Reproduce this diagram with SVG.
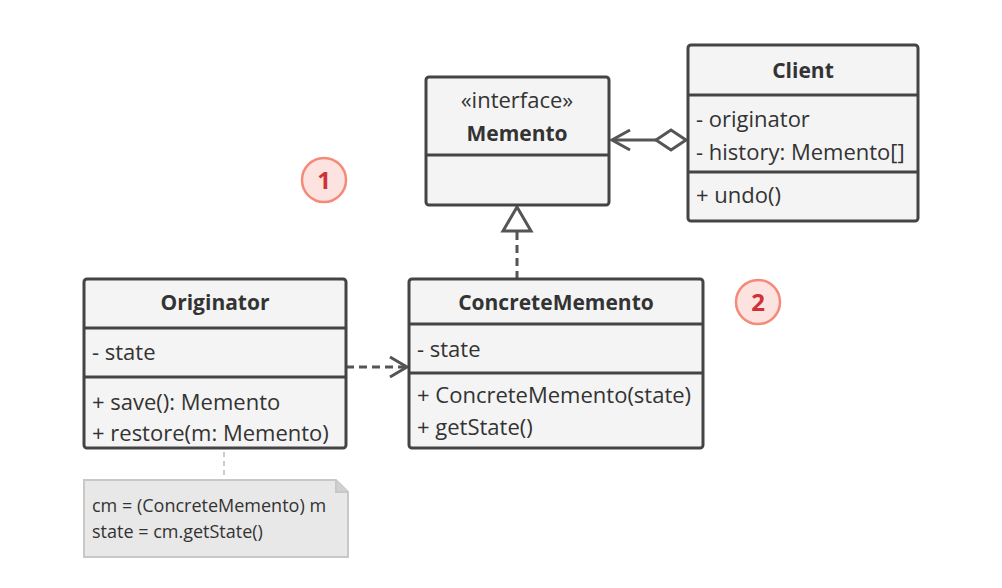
<svg xmlns="http://www.w3.org/2000/svg" width="1002" height="588" viewBox="0 0 1002 588">
<defs>
<style>
.box{fill:#f4f4f4;stroke:#444;stroke-width:3}
.div{stroke:#444;stroke-width:3}
.t{font-family:"Open Sans","Noto Sans",sans-serif;font-size:22px;fill:#333}
.b{font-weight:bold;text-anchor:middle;font-size:21px}
.c{text-anchor:middle}
.n{font-family:"Open Sans","Noto Sans",sans-serif;font-size:18px;fill:#333}
.con{fill:none;stroke:#555;stroke-width:3}
.badge{fill:#fde3df;stroke:#f5897a;stroke-width:2.5}
.bt{font-family:"Open Sans","Noto Sans",sans-serif;font-size:24px;font-weight:bold;fill:#d0303a;text-anchor:middle}
</style>
</defs>
<rect width="1002" height="588" fill="#fff"/>
<g id="connectors">
<line class="con" x1="346" y1="367" x2="405" y2="367" stroke-dasharray="8,5"/>
<polyline class="con" points="390,357 407,367 390,377"/>
<line class="con" x1="517" y1="279" x2="517" y2="231" stroke-dasharray="8,5"/>
<polygon class="con" points="517,207 503,231 531,231" fill="#fff"/>
<line class="con" x1="612" y1="140" x2="656" y2="140"/>
<polyline class="con" points="630,130 612,140 630,150"/>
<polygon class="con" points="686,140 671,130 656,140 671,150" fill="#fff"/>
<line x1="224" y1="452" x2="224" y2="480" stroke="#ccc" stroke-width="2" stroke-dasharray="5,4"/>
</g>
<g id="memento">
<rect class="box" x="426" y="77" width="183" height="128" rx="3"/>
<line class="div" x1="426" y1="155" x2="609" y2="155"/>
<text class="t c" x="517" y="108">«interface»</text>
<text class="t b" x="517" y="141">Memento</text>
</g>
<g id="client">
<rect class="box" x="688" y="45" width="230" height="176" rx="3"/>
<line class="div" x1="688" y1="95" x2="918" y2="95"/>
<line class="div" x1="688" y1="172" x2="918" y2="172"/>
<text class="t b" x="803" y="78">Client</text>
<text class="t" x="696" y="127">- originator</text>
<text class="t" x="696" y="160">- history: Memento[]</text>
<text class="t" x="696" y="203">+ undo()</text>
</g>
<g id="originator">
<rect class="box" x="84" y="279" width="262" height="169" rx="3"/>
<line class="div" x1="84" y1="328" x2="346" y2="328"/>
<line class="div" x1="84" y1="377" x2="346" y2="377"/>
<text class="t b" x="215" y="310">Originator</text>
<text class="t" x="92" y="360">- state</text>
<text class="t" x="92" y="410">+ save(): Memento</text>
<text class="t" x="92" y="441">+ restore(m: Memento)</text>
</g>
<g id="concretememento">
<rect class="box" x="409" y="279" width="294" height="169" rx="3"/>
<line class="div" x1="409" y1="324" x2="703" y2="324"/>
<line class="div" x1="409" y1="373" x2="703" y2="373"/>
<text class="t b" x="556" y="310">ConcreteMemento</text>
<text class="t" x="417" y="357">- state</text>
<text class="t" x="417" y="403">+ ConcreteMemento(state)</text>
<text class="t" x="417" y="435">+ getState()</text>
</g>
<g id="note">
<path d="M84,480 H336 L348,492 V557 H84 Z" fill="#e8e8e8" stroke="#c8c8c8" stroke-width="2"/>
<path d="M336,480 V492 H348" fill="#d0d0d0" stroke="#c8c8c8" stroke-width="2"/>
<text class="n" x="92" y="512">cm = (ConcreteMemento) m</text>
<text class="n" x="92" y="538">state = cm.getState()</text>
</g>
<g id="badge1">
<circle class="badge" cx="324" cy="180" r="22"/>
<text class="bt" x="324" y="189">1</text>
</g>
<g id="badge2">
<circle class="badge" cx="758" cy="302" r="22"/>
<text class="bt" x="758" y="311">2</text>
</g>
</svg>
